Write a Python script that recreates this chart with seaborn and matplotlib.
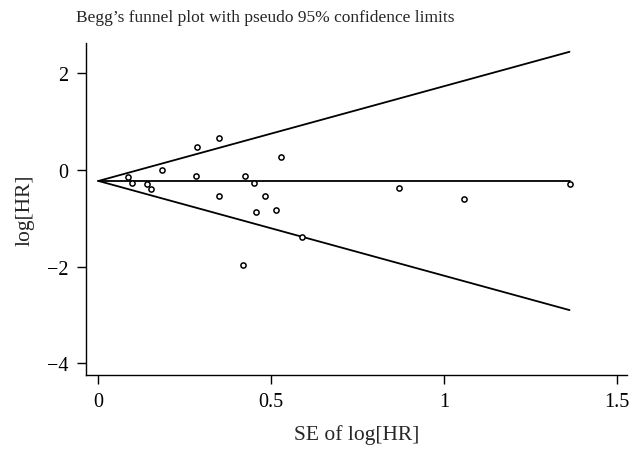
import numpy as np
import pandas as pd
import matplotlib
matplotlib.use("Agg")
import matplotlib.pyplot as plt
import seaborn as sns

# study-level estimates
se_loghr = [0.086, 0.097, 0.140, 0.151, 0.185, 0.284, 0.283, 0.349, 0.349, 0.424,
            0.419, 0.451, 0.457, 0.483, 0.514, 0.527, 0.588, 0.871, 1.059, 1.363]
loghr = [-0.15, -0.27, -0.29, -0.39, -0.01, 0.47, -0.12, 0.66, -0.54, -0.12,
         -1.97, -0.27, -0.88, -0.54, -0.83, 0.26, -1.39, -0.37, -0.60, -0.30]
pooled = -0.23

x_ticks = [0, 0.5, 1, 1.5]
x_ticklabels = ["0", "0.5", "1", "1.5"]
y_ticks = [2, 0, -2, -4]
y_ticklabels = ["2", "0", "\u22122", "\u22124"]

df = pd.DataFrame({"se": se_loghr, "loghr": loghr})

# pseudo 95% confidence limits
se_max = max(se_loghr)
lim = pd.DataFrame({"se": [0, se_max]})
lim["upper"] = pooled + 1.96 * lim["se"]
lim["lower"] = pooled - 1.96 * lim["se"]
lim["mid"] = pooled

sns.set_style("ticks")
plt.rcParams["font.family"] = ["Liberation Serif", "DejaVu Serif"]

fig = plt.figure(figsize=(6.42, 4.60), dpi=100)
ax = fig.add_axes([0.134, 0.183, 0.843, 0.721])

for col in ["upper", "mid", "lower"]:
    sns.lineplot(data=lim, x="se", y=col, ax=ax, color="black", linewidth=1.3)

sns.scatterplot(data=df, x="se", y="loghr", ax=ax, marker="o", s=14,
                facecolor="white", edgecolor="black", linewidth=1.1, zorder=3)

ax.set_xlim(-0.036, 1.53)
ax.set_ylim(-4.24, 2.62)
ax.set_xticks(x_ticks)
ax.set_xticklabels(x_ticklabels)
ax.set_yticks(y_ticks)
ax.set_yticklabels(y_ticklabels)
ax.tick_params(axis="both", labelsize=14.5, length=6.5, width=1, color="black",
               labelcolor="black", pad=6)
sns.despine(ax=ax)
for s in ["left", "bottom"]:
    ax.spines[s].set_color("black")
    ax.spines[s].set_linewidth(1)

ax.set_xlabel("SE of log[HR]", fontsize=15.5, labelpad=9)
ax.set_ylabel("log[HR]", fontsize=15.5, labelpad=9)
fig.text(76 / 642, 1 - 10 / 460, "Begg\u2019s funnel plot with pseudo 95% confidence limits",
         fontsize=12.5, ha="left", va="top")

fig.savefig("out.png", dpi=100)
